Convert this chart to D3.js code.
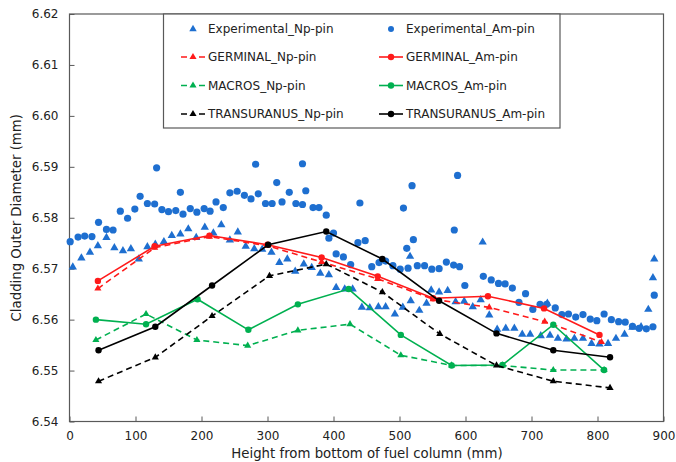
<!DOCTYPE html>
<html>
<head>
<meta charset="utf-8">
<script src="https://cdn.jsdelivr.net/npm/d3@7"></script>
<style>
  body { margin: 0; background: #fff; }
  svg text { font-family: "DejaVu Sans", Verdana, sans-serif; fill: #222; }
</style>
</head>
<body>
<svg id="chart" width="676" height="462"></svg>
<script>
// experimental points, Np-pin (triangles)
const expNpH = [5,18,31,43,56,68,81,93,105,118,130,143,155,168,180,192,205,218,230,243,255,267,280,292,306,318,330,342,355,367,380,393,404,417,429,443,455,468,479,493,505,516,517,530,541,548,560,573,585,598,611,623,626,636,648,661,674,686,698,714,724,728,740,753,765,778,791,803,816,828,841,853,866,877,884,886]
const expNpD = [6.5703,6.5721,6.5732,6.5745,6.5761,6.5741,6.5735,6.5739,6.5719,6.5743,6.5748,6.5753,6.5765,6.5768,6.5778,6.5761,6.5781,6.5770,6.5786,6.5756,6.5772,6.5744,6.5739,6.5738,6.5732,6.5712,6.5719,6.5695,6.5709,6.5702,6.5691,6.5688,6.5663,6.5660,6.5660,6.5624,6.5623,6.5625,6.5625,6.5611,6.5624,6.5724,6.5637,6.5618,6.5632,6.5658,6.5654,6.5657,6.5635,6.5636,6.5625,6.5639,6.5752,6.5609,6.5581,6.5583,6.5583,6.5571,6.5571,6.5568,6.5632,6.5569,6.5563,6.5562,6.5563,6.5563,6.5553,6.5552,6.5553,6.5563,6.5571,6.5585,6.5586,6.5620,6.5682,6.5719]

// experimental points, Am-pin (circles)
const expAmH = [1,13,23,34,44,56,66,77,88,99,107,118,129,132,140,150,161,168,172,183,193,204,213,222,233,243,254,265,275,282,286,297,307,314,322,333,343,353,353,358,369,378,389,393,400,404,415,426,437,440,448,458,469,479,490,501,506,511,513,519,521,527,538,549,560,571,582,583,588,591,599,627,639,650,660,671,681,691,702,713,723,736,746,756,767,778,789,799,810,821,832,842,853,863,874,884,886]
const expAmD = [6.5753,6.5762,6.5764,6.5763,6.5791,6.5777,6.5776,6.5813,6.5799,6.5817,6.5842,6.5828,6.5827,6.5898,6.5816,6.5812,6.5814,6.5850,6.5807,6.5818,6.5811,6.5818,6.5813,6.5831,6.5820,6.5849,6.5852,6.5844,6.5837,6.5905,6.5847,6.5828,6.5828,6.5869,6.5831,6.5850,6.5828,6.5906,6.5826,6.5853,6.5820,6.5820,6.5805,6.5760,6.5770,6.5729,6.5723,6.5708,6.5751,6.5829,6.5755,6.5704,6.5712,6.5715,6.5706,6.5699,6.5819,6.5740,6.5701,6.5863,6.5757,6.5706,6.5706,6.5699,6.5700,6.5713,6.5707,6.5776,6.5883,6.5704,6.5667,6.5685,6.5678,6.5671,6.5670,6.5662,6.5634,6.5651,6.5620,6.5630,6.5630,6.5623,6.5610,6.5611,6.5605,6.5610,6.5601,6.5598,6.5611,6.5600,6.5596,6.5595,6.5587,6.5583,6.5582,6.5586,6.5648]

// model results
const germinalNpH = [43,129,212,300,382,467,551,636,720,806]
const germinalNpD = [6.5661,6.5741,6.5763,6.5745,6.5713,6.5680,6.5640,6.5624,6.5596,6.5556]
const germinalAmH = [43,129,212,300,382,467,551,634,719,803]
const germinalAmD = [6.5676,6.5744,6.5765,6.5747,6.5722,6.5685,6.5642,6.5646,6.5622,6.5570]
const macrosNpH = [40,116,193,270,346,425,502,579,656,733,810]
const macrosNpD = [6.5560,6.5611,6.5560,6.5549,6.5579,6.5591,6.5530,6.5510,6.5510,6.5501,6.5501]
const macrosAmH = [40,116,194,271,346,423,502,579,656,733,810]
const macrosAmD = [6.5600,6.5591,6.5640,6.5580,6.5630,6.5660,6.5570,6.5510,6.5511,6.5590,6.5501]
const transNpH = [44,130,216,303,389,474,561,647,733,819]
const transNpD = [6.5479,6.5526,6.5607,6.5686,6.5709,6.5654,6.5572,6.5510,6.5479,6.5466]
const transAmH = [44,130,216,301,389,474,560,647,733,819]
const transAmD = [6.5540,6.5586,6.5667,6.5747,6.5773,6.5719,6.5637,6.5573,6.5540,6.5526]

const xTicks = [0,100,200,300,400,500,600,700,800,900]
const yTicks = [6.54,6.55,6.56,6.57,6.58,6.59,6.60,6.61,6.62]

const blue = "#1e6fd0", red = "#ff1a1a", green = "#00b050", black = "#000"

const svg = d3.select("#chart")
const plotLeft = 69.5, plotRight = 663.5, plotTop = 14, plotBottom = 421.5

const x = d3.scaleLinear().domain([0,900]).range([plotLeft,plotRight])
const y = d3.scaleLinear().domain([6.54,6.62]).range([plotBottom,plotTop])

const zip = (h, d) => h.map((v,i) => [v, d[i]])

// axes, ticks pointing inward
svg.append("g")
  .attr("transform", `translate(0,${plotBottom})`)
  .call(d3.axisBottom(x).tickValues(xTicks).tickSizeInner(-5).tickSizeOuter(0).tickPadding(10))
  .call(g => g.select(".domain").remove())
  .call(g => g.selectAll("line").attr("stroke","#595959"))
  .call(g => g.selectAll("text").style("font-size","12px").attr("fill","#222"))

svg.append("g")
  .attr("transform", `translate(${plotLeft},0)`)
  .call(d3.axisLeft(y).tickValues(yTicks).tickFormat(d3.format(".2f")).tickSizeInner(-5).tickSizeOuter(0).tickPadding(11))
  .call(g => g.select(".domain").remove())
  .call(g => g.selectAll("line").attr("stroke","#595959"))
  .call(g => g.selectAll("text").style("font-size","12px").attr("fill","#222"))

svg.append("rect")
  .attr("x", plotLeft).attr("y", plotTop)
  .attr("width", plotRight-plotLeft).attr("height", plotBottom-plotTop)
  .attr("fill","none").attr("stroke","#595959").attr("stroke-width",1.2)

svg.append("text")
  .attr("x", 367).attr("y", 458)
  .attr("text-anchor","middle").style("font-size","13.3px")
  .text("Height from bottom of fuel column (mm)")

svg.append("text")
  .attr("transform", `translate(21,${(plotTop+plotBottom)/2}) rotate(-90)`)
  .attr("text-anchor","middle").style("font-size","13.3px")
  .text("Cladding Outer Diameter (mm)")

const tri = (size) => d3.symbol().type(d3.symbolTriangle).size(size)()

// experimental scatter
const plot = svg.append("g")
plot.selectAll(".expNp")
  .data(zip(expNpH, expNpD)).enter()
    .append("path")
    .attr("class","expNp")
    .attr("d", tri(30))
    .attr("transform", d => `translate(${x(d[0])},${y(d[1])})`)
    .attr("fill", blue)

plot.selectAll(".expAm")
  .data(zip(expAmH, expAmD)).enter()
    .append("circle")
    .attr("class","expAm")
    .attr("cx", d => x(d[0]))
    .attr("cy", d => y(d[1]))
    .attr("r", 3.6)
    .attr("fill", blue)

const line = d3.line().x(d => x(d[0])).y(d => y(d[1]))

function drawModel(h, d, color, dashed){
  const pts = zip(h, d)
  plot.append("path")
    .datum(pts)
    .attr("d", line)
    .attr("fill","none")
    .attr("stroke", color)
    .attr("stroke-width", 1.6)
    .attr("stroke-dasharray", dashed ? "6,4" : null)
  if(dashed){
    plot.selectAll(null)
      .data(pts).enter()
        .append("path")
        .attr("d", tri(22))
        .attr("transform", p => `translate(${x(p[0])},${y(p[1])})`)
        .attr("fill", color)
  }
  else{
    plot.selectAll(null)
      .data(pts).enter()
        .append("circle")
        .attr("cx", p => x(p[0]))
        .attr("cy", p => y(p[1]))
        .attr("r", 3.2)
        .attr("fill", color)
  }
}

drawModel(germinalNpH, germinalNpD, red, true)
drawModel(germinalAmH, germinalAmD, red, false)
drawModel(macrosNpH, macrosNpD, green, true)
drawModel(macrosAmH, macrosAmD, green, false)
drawModel(transNpH, transNpD, black, true)
drawModel(transAmH, transAmD, black, false)

// legend
const legend = svg.append("g")
legend.append("rect")
  .attr("x",163.5).attr("y",plotTop)
  .attr("width",396.5).attr("height",114)
  .attr("fill","#fff").attr("stroke","#595959").attr("stroke-width",1.2)

const rowsY = [29,57,85.5,114]
const legendItems = [
  {name:"Experimental_Np-pin", col:0, row:0, color:blue, kind:"tri", line:false},
  {name:"GERMINAL_Np-pin", col:0, row:1, color:red, kind:"tri", line:true},
  {name:"MACROS_Np-pin", col:0, row:2, color:green, kind:"tri", line:true},
  {name:"TRANSURANUS_Np-pin", col:0, row:3, color:black, kind:"tri", line:true},
  {name:"Experimental_Am-pin", col:1, row:0, color:blue, kind:"dot", line:false},
  {name:"GERMINAL_Am-pin", col:1, row:1, color:red, kind:"dot", line:true},
  {name:"MACROS_Am-pin", col:1, row:2, color:green, kind:"dot", line:true},
  {name:"TRANSURANUS_Am-pin", col:1, row:3, color:black, kind:"dot", line:true}
]

legendItems.forEach(function(item){
  const mx = item.col == 0 ? 193 : 391
  const my = rowsY[item.row]
  if(item.line){
    legend.append("line")
      .attr("x1", mx-12).attr("x2", mx+12)
      .attr("y1", my).attr("y2", my)
      .attr("stroke", item.color).attr("stroke-width",1.6)
      .attr("stroke-dasharray", item.kind == "tri" ? "6,12" : null)
  }
  if(item.kind == "tri"){
    legend.append("path")
      .attr("d", tri(item.line ? 22 : 24))
      .attr("transform", `translate(${mx},${my})`)
      .attr("fill", item.color)
  }
  else{
    legend.append("circle")
      .attr("cx", mx).attr("cy", my)
      .attr("r", item.line ? 3.2 : 3)
      .attr("fill", item.color)
  }
  legend.append("text")
    .attr("x", mx+15).attr("y", my)
    .attr("dy","0.35em")
    .style("font-size","12px")
    .text(item.name)
})
</script>
</body>
</html>
